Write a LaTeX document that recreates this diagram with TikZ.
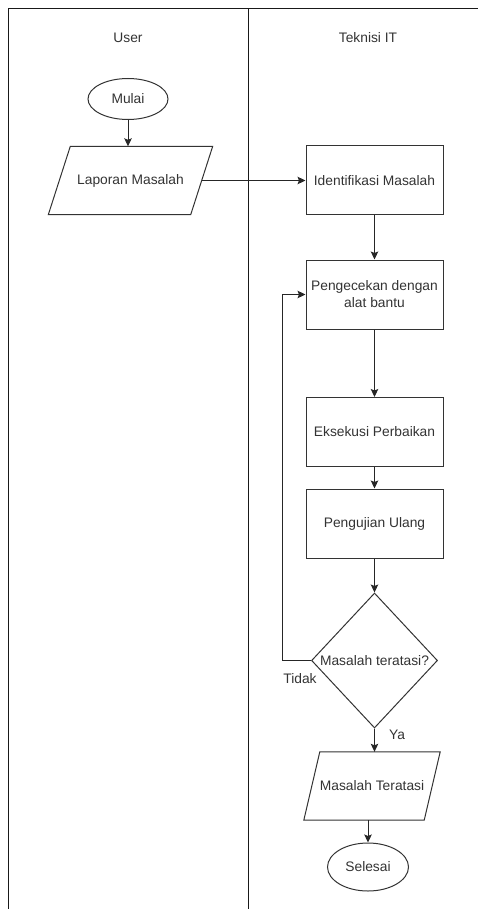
\documentclass[tikz,border=0pt]{standalone}
\usepackage{fontspec}
\setmainfont{Liberation Sans}
\usetikzlibrary{shapes.geometric,arrows.meta}
\begin{document}
\begin{tikzpicture}[x=1pt,y=-1pt,
  txt/.style={font=\fontsize{13.8}{17}\selectfont, text=black!80},
  box/.style={txt, draw=black!80, line width=1pt, minimum width=137pt, minimum height=69pt, inner sep=0pt, align=center},
  io/.style={txt, minimum height=68pt, inner sep=0pt},
  iodraw/.style={draw=black!80, line width=1pt, line join=miter},
  term/.style={txt, draw=black!80, ellipse, line width=1pt, inner sep=0pt},
  decbox/.style={draw=black!80, diamond, line width=1pt, inner sep=0pt, minimum width=126pt, minimum height=135pt},
  arr/.style={-{Stealth[length=8pt,width=7.5pt,inset=1.5pt]}, line width=1pt, draw=black!85},
  frame/.style={line width=1pt, draw=black!90},
]
\useasboundingbox (0,0) rectangle (478,909);
% swimlane frame
\coordinate (tl) at (8,9);
\coordinate (tr) at (478,9);
\coordinate (bl) at (8,909);
\coordinate (mt0) at (248,9);
\coordinate (mb0) at (248,909);
\draw[frame] (tr) -- (tl) -- (bl);
\draw[frame] (mt0) -- (mb0);
\node[txt] (lanea) at (128,38) {User};
\node[txt] (laneb) at (368,38) {Teknisi IT};

% nodes
\node[term, minimum width=80pt, minimum height=41pt] (mulai) at (128,99) {Mulai};
\node[io, minimum width=142pt] (lap) at (130.5,180.5) {Laporan Masalah};
\draw[iodraw] ([xshift=11pt]lap.north west) -- ([xshift=11pt]lap.north east) -- ([xshift=-11pt]lap.south east) -- ([xshift=-11pt]lap.south west) -- cycle;
\node[box] (ident) at (374.5,180.5) {Identifikasi Masalah};
\node[box] (cek) at (374.5,294.5) {Pengecekan dengan\\alat bantu};
\node[box] (eks) at (374.5,432) {Eksekusi Perbaikan};
\node[box] (uji) at (374.5,523.5) {Pengujian Ulang};
\node[decbox, label={[txt]center:Masalah teratasi?}] (dec) at (374.5,660.5) {};
\node[io, minimum width=120pt] (mtr) at (372,786) {Masalah Teratasi};
\draw[iodraw] ([xshift=8pt]mtr.north west) -- ([xshift=8pt]mtr.north east) -- ([xshift=-8pt]mtr.south east) -- ([xshift=-8pt]mtr.south west) -- cycle;
\node[term, minimum width=81pt, minimum height=48pt] (sel) at (368,867) {Selesai};

% connectors
\draw[arr] (mulai.south) -- (mulai.south |- lap.north);
\draw[arr] (lap.east) -- (ident.west);
\draw[arr] (ident.south) -- (cek.north);
\draw[arr] (cek.south) -- (eks.north);
\draw[arr] (eks.south) -- (uji.north);
\draw[arr] (uji.south) -- (dec.north);
\draw[arr] (dec.west) -- ++(-29,0) |- (cek.west);
\draw[arr] (dec.south) -- (dec.south |- mtr.north);
\draw[arr] (sel.north |- mtr.south) -- (sel.north);
\node[txt] (tidak) at (300,679) {Tidak};
\node[txt] (ya) at (397,735) {Ya};
\end{tikzpicture}
\end{document}
